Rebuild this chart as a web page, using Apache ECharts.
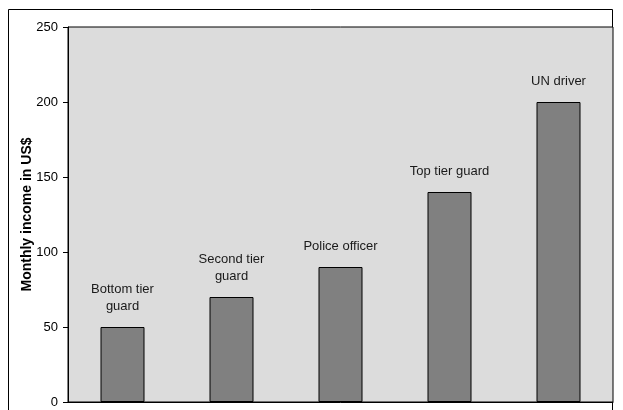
<!DOCTYPE html>
<html>
<head>
<meta charset="utf-8">
<script src="https://cdn.jsdelivr.net/npm/echarts@6/dist/echarts.min.js"></script>
<style>html,body{margin:0;padding:0;background:#fff}#c{width:623px;height:410px}</style>
</head>
<body>
<div id="c"></div>
<script>
const categories = ["Bottom tier\nguard", "Second tier\nguard", "Police officer", "Top tier guard", "UN driver"];
const values = [50, 70, 90, 140, 200];
const yTicks = [0, 50, 100, 150, 200, 250];

const chart = echarts.init(document.getElementById('c'));
chart.setOption({
  animation: false,
  textStyle: {fontFamily: 'Liberation Sans, Arial, sans-serif'},
  graphic: [{
    type: 'rect', shape: {x: 8.5, y: 9.5, width: 604, height: 420},
    style: {fill: 'none', stroke: '#000', lineWidth: 1}, silent: true, z: -1
  }],
  grid: {left: 68, top: 27, right: 10, bottom: 8, show: true, backgroundColor: '#dcdcdc', borderColor: '#000', borderWidth: 1},
  xAxis: {
    type: 'category', data: categories,
    axisLine: {lineStyle: {color: '#000'}}, axisTick: {show: false}, axisLabel: {show: false}
  },
  yAxis: {
    type: 'value', min: 0, max: 250, interval: 50,
    name: 'Monthly income in US$', nameLocation: 'middle', nameGap: 34, nameMoveOverlap: false,
    nameTextStyle: {fontWeight: 'bold', fontSize: 14, color: '#000'},
    axisLine: {show: true, lineStyle: {color: '#000'}},
    axisTick: {show: true, length: 5, lineStyle: {color: '#000'}},
    axisLabel: {color: '#000', fontSize: 13, margin: 10, formatter: v => yTicks.includes(v) ? String(v) : ''},
    splitLine: {show: false}
  },
  series: [{
    type: 'bar', data: values, barWidth: 44,
    itemStyle: {color: '#808080', borderColor: '#000', borderWidth: 1},
    label: {show: true, position: 'top', distance: 12, color: '#1a1a1a', fontSize: 13, lineHeight: 17,
      formatter: p => categories[p.dataIndex]}
  }]
});
</script>
</body>
</html>
